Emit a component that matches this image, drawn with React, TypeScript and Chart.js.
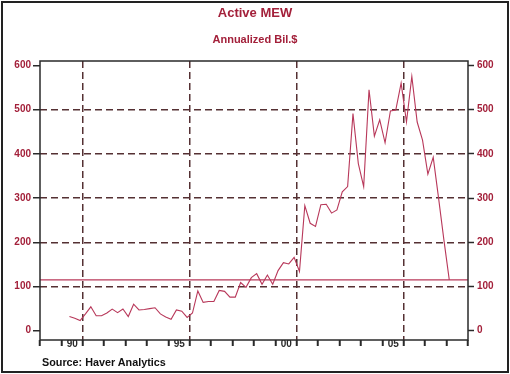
import React, { useEffect, useRef } from "react";
import { Chart, registerables } from "chart.js";

Chart.register(...registerables);

const TITLE = "Active MEW";
const SUBTITLE = "Annualized Bil.$";
const SOURCE = "Source: Haver Analytics";

// Quarterly data, first point = 1990 Q2 (plotted at mid-quarter)
const firstQuarterMid = 1990.375;
const quarterStep = 0.25;
const mew = [
  32, 28, 23, 38, 54, 34, 34, 40, 49, 41,
  49, 32, 60, 47, 48, 50, 52, 38, 31, 26,
  47, 44, 30, 40, 90, 64, 66, 66, 91, 89,
  76, 76, 109, 98, 120, 129, 105, 126, 105, 136,
  154, 151, 166, 134, 283, 243, 236, 285, 286, 266,
  273, 314, 326, 491, 378, 326, 545, 440, 477, 425,
  497, 499, 560, 472, 575, 472, 431, 354, 392, 300,
  205, 115,
];
const refLevel = 115;

const yMin = -21;
const yMax = 610;
const yTicks = [0, 100, 200, 300, 400, 500, 600];
const yGridValues = [100, 200, 300, 400, 500];

const xMin = 1989;
const xMax = 2009;
const xTickYears = [
  1989, 1990, 1991, 1992, 1993, 1994, 1995, 1996, 1997, 1998, 1999,
  2000, 2001, 2002, 2003, 2004, 2005, 2006, 2007, 2008, 2009,
];
const xLabelYears = [1991, 1996, 2001, 2006];
const xLabels = ["90", "95", "00", "05"];

const RED = "#a3203a";
const LINE = "#b8385a";
const GRID = "#553033";
const AXIS = "#2a2a2a";
const FONT = "'Liberation Sans', Arial, Helvetica, sans-serif";

const framePlugin = {
  id: "frame",
  afterDraw(chart: any) {
    const { ctx, chartArea: a } = chart;
    ctx.save();
    ctx.strokeStyle = AXIS;
    ctx.lineWidth = 1.5;
    ctx.strokeRect(a.left, a.top, a.right - a.left, a.bottom - a.top);
    ctx.restore();
  },
};

export default function App() {
  const ref = useRef<HTMLCanvasElement>(null);

  useEffect(() => {
    if (!ref.current) return;
    const chart = new Chart(ref.current, {
      type: "line",
      data: {
        datasets: [
          {
            data: mew.map((v, i) => ({ x: firstQuarterMid + i * quarterStep, y: v })),
            borderColor: LINE,
            borderWidth: 1.1,
            pointRadius: 0,
            tension: 0,
            xAxisID: "x",
            yAxisID: "y",
          },
          {
            data: [
              { x: xMin, y: refLevel },
              { x: xMax, y: refLevel },
            ],
            borderColor: LINE,
            borderWidth: 1.3,
            pointRadius: 0,
            xAxisID: "x",
            yAxisID: "y",
          },
        ],
      },
      options: {
        responsive: false,
        animation: false,
        events: [],
        layout: { padding: { top: 61, left: 0, right: 0, bottom: 0 } },
        plugins: {
          legend: { display: false },
          tooltip: { enabled: false },
          title: { display: false },
        },
        scales: {
          x: {
            type: "linear",
            position: "bottom",
            min: xMin,
            max: xMax,
            afterBuildTicks: (s: any) => {
              s.ticks = xTickYears.map((v) => ({ value: v }));
            },
            afterFit: (s: any) => {
              s.height = 34;
            },
            grid: {
              color: (c: any) =>
                xLabelYears.includes(c.tick?.value) ? GRID : "transparent",
              lineWidth: 1.5,
              drawTicks: true,
              tickLength: 6,
              tickColor: AXIS,
              tickWidth: 2,
            },
            border: { display: false, dash: [7, 4] },
            ticks: {
              autoSkip: false,
              maxRotation: 0,
              minRotation: 0,
              padding: -8,
              labelOffset: -10.5,
              color: AXIS,
              font: { family: FONT, size: 10, weight: "bold" },
              callback: (v: any) => {
                const i = xLabelYears.indexOf(Number(v));
                return i >= 0 ? xLabels[i] : "";
              },
            },
          },
          y: {
            type: "linear",
            position: "left",
            min: yMin,
            max: yMax,
            afterBuildTicks: (s: any) => {
              s.ticks = yTicks.map((v) => ({ value: v }));
            },
            afterFit: (s: any) => {
              s.width = 40;
            },
            grid: {
              color: (c: any) =>
                yGridValues.includes(c.tick?.value) ? GRID : "transparent",
              lineWidth: 1.5,
              tickLength: 7,
              tickColor: AXIS,
              tickWidth: 1.5,
            },
            border: { display: false, dash: [7, 4] },
            ticks: {
              color: RED,
              padding: 2,
              font: { family: FONT, size: 10, weight: "bold" },
            },
          },
          y2: {
            type: "linear",
            position: "right",
            min: yMin,
            max: yMax,
            afterBuildTicks: (s: any) => {
              s.ticks = yTicks.map((v) => ({ value: v }));
            },
            afterFit: (s: any) => {
              s.width = 42;
            },
            grid: {
              drawOnChartArea: false,
              tickLength: 6,
              tickColor: AXIS,
              tickWidth: 1.5,
            },
            border: { display: false },
            ticks: {
              color: RED,
              padding: 3,
              font: { family: FONT, size: 10, weight: "bold" },
            },
          },
        },
      } as any,
      plugins: [framePlugin],
    });
    return () => chart.destroy();
  }, []);

  return (
    <div
      style={{
        position: "absolute",
        left: 0,
        top: 0,
        width: 510,
        height: 374,
        background: "#ffffff",
        fontFamily: FONT,
      }}
    >
      <canvas
        ref={ref}
        width={510}
        height={374}
        style={{ position: "absolute", left: 0, top: 0, width: 510, height: 374 }}
      />
      <div
        style={{
          position: "absolute",
          left: 0,
          top: 6,
          width: 510,
          textAlign: "center",
          color: RED,
          fontWeight: "bold",
          fontSize: 13,
          lineHeight: "13px",
        }}
      >
        {TITLE}
      </div>
      <div
        style={{
          position: "absolute",
          left: 0,
          top: 34,
          width: 510,
          textAlign: "center",
          color: RED,
          fontWeight: "bold",
          fontSize: 11,
          lineHeight: "11px",
        }}
      >
        {SUBTITLE}
      </div>
      <div
        style={{
          position: "absolute",
          left: 42,
          top: 357,
          color: "#111",
          fontWeight: "bold",
          fontSize: 10.8,
          lineHeight: "11px",
          whiteSpace: "nowrap",
        }}
      >
        {SOURCE}
      </div>
      <div
        style={{
          position: "absolute",
          left: 1,
          top: 1,
          width: 508,
          height: 372,
          boxSizing: "border-box",
          border: "2px solid #222",
          pointerEvents: "none",
        }}
      />
    </div>
  );
}
